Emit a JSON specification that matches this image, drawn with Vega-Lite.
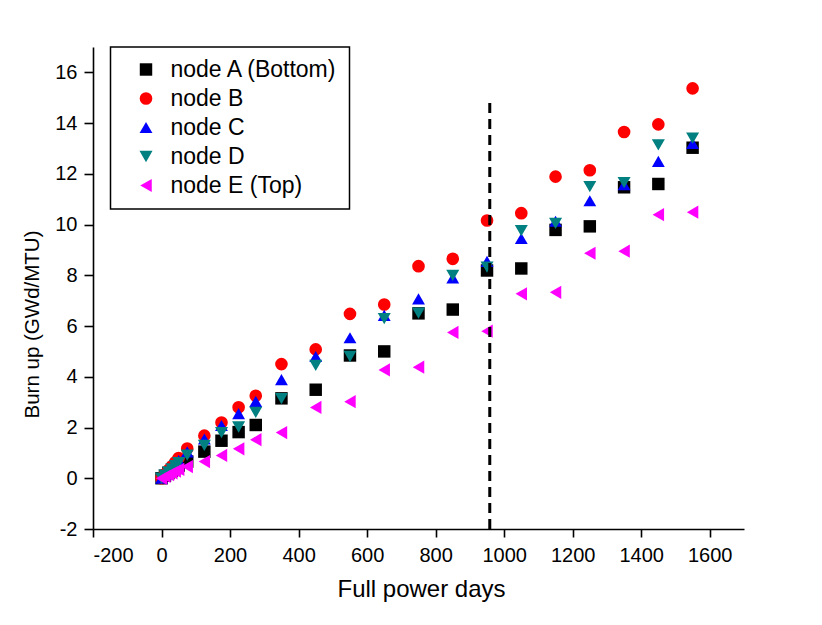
{
  "$schema": "https://vega.github.io/schema/vega-lite/v6.json",
  "width": 651,
  "height": 482,
  "autosize": "none",
  "padding": {"left": 93, "top": 47, "right": 78, "bottom": 96},
  "background": "white",
  "config": {"view": {"stroke": null}, "font": "Liberation Sans"},
  "datasets": {
    "pts": [
      {"days": 0, "burnup": 0, "node": "node A (Bottom)"},
      {"days": 10, "burnup": 0.1, "node": "node A (Bottom)"},
      {"days": 20, "burnup": 0.2, "node": "node A (Bottom)"},
      {"days": 30, "burnup": 0.3, "node": "node A (Bottom)"},
      {"days": 40, "burnup": 0.4, "node": "node A (Bottom)"},
      {"days": 50, "burnup": 0.5, "node": "node A (Bottom)"},
      {"days": 75, "burnup": 0.66, "node": "node A (Bottom)"},
      {"days": 125, "burnup": 1.05, "node": "node A (Bottom)"},
      {"days": 175, "burnup": 1.48, "node": "node A (Bottom)"},
      {"days": 225, "burnup": 1.82, "node": "node A (Bottom)"},
      {"days": 275, "burnup": 2.1, "node": "node A (Bottom)"},
      {"days": 350, "burnup": 3.15, "node": "node A (Bottom)"},
      {"days": 450, "burnup": 3.49, "node": "node A (Bottom)"},
      {"days": 550, "burnup": 4.84, "node": "node A (Bottom)"},
      {"days": 650, "burnup": 5.0, "node": "node A (Bottom)"},
      {"days": 750, "burnup": 6.5, "node": "node A (Bottom)"},
      {"days": 850, "burnup": 6.65, "node": "node A (Bottom)"},
      {"days": 950, "burnup": 8.19, "node": "node A (Bottom)"},
      {"days": 1050, "burnup": 8.27, "node": "node A (Bottom)"},
      {"days": 1150, "burnup": 9.79, "node": "node A (Bottom)"},
      {"days": 1250, "burnup": 9.93, "node": "node A (Bottom)"},
      {"days": 1350, "burnup": 11.47, "node": "node A (Bottom)"},
      {"days": 1450, "burnup": 11.6, "node": "node A (Bottom)"},
      {"days": 1550, "burnup": 13.03, "node": "node A (Bottom)"},
      {"days": 0, "burnup": 0, "node": "node B"},
      {"days": 10, "burnup": 0.16, "node": "node B"},
      {"days": 20, "burnup": 0.32, "node": "node B"},
      {"days": 30, "burnup": 0.47, "node": "node B"},
      {"days": 40, "burnup": 0.63, "node": "node B"},
      {"days": 50, "burnup": 0.8, "node": "node B"},
      {"days": 75, "burnup": 1.17, "node": "node B"},
      {"days": 125, "burnup": 1.68, "node": "node B"},
      {"days": 175, "burnup": 2.2, "node": "node B"},
      {"days": 225, "burnup": 2.8, "node": "node B"},
      {"days": 275, "burnup": 3.25, "node": "node B"},
      {"days": 350, "burnup": 4.5, "node": "node B"},
      {"days": 450, "burnup": 5.08, "node": "node B"},
      {"days": 550, "burnup": 6.48, "node": "node B"},
      {"days": 650, "burnup": 6.85, "node": "node B"},
      {"days": 750, "burnup": 8.36, "node": "node B"},
      {"days": 850, "burnup": 8.65, "node": "node B"},
      {"days": 950, "burnup": 10.16, "node": "node B"},
      {"days": 1050, "burnup": 10.45, "node": "node B"},
      {"days": 1150, "burnup": 11.89, "node": "node B"},
      {"days": 1250, "burnup": 12.14, "node": "node B"},
      {"days": 1350, "burnup": 13.65, "node": "node B"},
      {"days": 1450, "burnup": 13.95, "node": "node B"},
      {"days": 1550, "burnup": 15.37, "node": "node B"},
      {"days": 0, "burnup": 0, "node": "node C"},
      {"days": 10, "burnup": 0.14, "node": "node C"},
      {"days": 20, "burnup": 0.28, "node": "node C"},
      {"days": 30, "burnup": 0.42, "node": "node C"},
      {"days": 40, "burnup": 0.56, "node": "node C"},
      {"days": 50, "burnup": 0.7, "node": "node C"},
      {"days": 75, "burnup": 1.04, "node": "node C"},
      {"days": 125, "burnup": 1.55, "node": "node C"},
      {"days": 175, "burnup": 2.08, "node": "node C"},
      {"days": 225, "burnup": 2.55, "node": "node C"},
      {"days": 275, "burnup": 3.03, "node": "node C"},
      {"days": 350, "burnup": 3.89, "node": "node C"},
      {"days": 450, "burnup": 4.8, "node": "node C"},
      {"days": 550, "burnup": 5.54, "node": "node C"},
      {"days": 650, "burnup": 6.42, "node": "node C"},
      {"days": 750, "burnup": 7.07, "node": "node C"},
      {"days": 850, "burnup": 7.9, "node": "node C"},
      {"days": 950, "burnup": 8.55, "node": "node C"},
      {"days": 1050, "burnup": 9.45, "node": "node C"},
      {"days": 1150, "burnup": 10.13, "node": "node C"},
      {"days": 1250, "burnup": 10.94, "node": "node C"},
      {"days": 1350, "burnup": 11.57, "node": "node C"},
      {"days": 1450, "burnup": 12.49, "node": "node C"},
      {"days": 1550, "burnup": 13.2, "node": "node C"},
      {"days": 0, "burnup": 0, "node": "node D"},
      {"days": 10, "burnup": 0.12, "node": "node D"},
      {"days": 20, "burnup": 0.25, "node": "node D"},
      {"days": 30, "burnup": 0.37, "node": "node D"},
      {"days": 40, "burnup": 0.5, "node": "node D"},
      {"days": 50, "burnup": 0.62, "node": "node D"},
      {"days": 75, "burnup": 0.91, "node": "node D"},
      {"days": 125, "burnup": 1.3, "node": "node D"},
      {"days": 175, "burnup": 1.8, "node": "node D"},
      {"days": 225, "burnup": 2.02, "node": "node D"},
      {"days": 275, "burnup": 2.6, "node": "node D"},
      {"days": 350, "burnup": 3.14, "node": "node D"},
      {"days": 450, "burnup": 4.45, "node": "node D"},
      {"days": 550, "burnup": 4.8, "node": "node D"},
      {"days": 650, "burnup": 6.29, "node": "node D"},
      {"days": 750, "burnup": 6.51, "node": "node D"},
      {"days": 850, "burnup": 8.0, "node": "node D"},
      {"days": 950, "burnup": 8.32, "node": "node D"},
      {"days": 1050, "burnup": 9.76, "node": "node D"},
      {"days": 1150, "burnup": 10.05, "node": "node D"},
      {"days": 1250, "burnup": 11.5, "node": "node D"},
      {"days": 1350, "burnup": 11.65, "node": "node D"},
      {"days": 1450, "burnup": 13.14, "node": "node D"},
      {"days": 1550, "burnup": 13.41, "node": "node D"},
      {"days": 0, "burnup": 0, "node": "node E (Top)"},
      {"days": 10, "burnup": 0.07, "node": "node E (Top)"},
      {"days": 20, "burnup": 0.14, "node": "node E (Top)"},
      {"days": 30, "burnup": 0.21, "node": "node E (Top)"},
      {"days": 40, "burnup": 0.28, "node": "node E (Top)"},
      {"days": 50, "burnup": 0.35, "node": "node E (Top)"},
      {"days": 75, "burnup": 0.46, "node": "node E (Top)"},
      {"days": 125, "burnup": 0.66, "node": "node E (Top)"},
      {"days": 175, "burnup": 0.9, "node": "node E (Top)"},
      {"days": 225, "burnup": 1.16, "node": "node E (Top)"},
      {"days": 275, "burnup": 1.52, "node": "node E (Top)"},
      {"days": 350, "burnup": 1.8, "node": "node E (Top)"},
      {"days": 450, "burnup": 2.79, "node": "node E (Top)"},
      {"days": 550, "burnup": 3.02, "node": "node E (Top)"},
      {"days": 650, "burnup": 4.27, "node": "node E (Top)"},
      {"days": 750, "burnup": 4.38, "node": "node E (Top)"},
      {"days": 850, "burnup": 5.75, "node": "node E (Top)"},
      {"days": 950, "burnup": 5.8, "node": "node E (Top)"},
      {"days": 1050, "burnup": 7.27, "node": "node E (Top)"},
      {"days": 1150, "burnup": 7.33, "node": "node E (Top)"},
      {"days": 1250, "burnup": 8.87, "node": "node E (Top)"},
      {"days": 1350, "burnup": 8.95, "node": "node E (Top)"},
      {"days": 1450, "burnup": 10.39, "node": "node E (Top)"},
      {"days": 1550, "burnup": 10.49, "node": "node E (Top)"}
    ],
    "marker": [
      {"days": 958, "from": -2, "to": 14.85}
    ]
  },
  "layer": [
    {
      "data": {"name": "pts"},
      "mark": {"type": "point", "filled": true, "opacity": 1, "strokeWidth": 0},
      "encoding": {
        "x": {
          "field": "days", "type": "quantitative",
          "scale": {"domain": [-200, 1700], "nice": false, "zero": false},
          "axis": {
            "title": "Full power days",
            "values": [-200, -100, 0, 100, 200, 300, 400, 500, 600, 700, 800, 900, 1000, 1100, 1200, 1300, 1400, 1500, 1600, 1700],
            "labelExpr": "datum.value % 200 === 0 ? '' + datum.value : ''",
            "grid": false,
            "domainColor": "black", "domainWidth": 1.6,
            "tickColor": "black", "tickWidth": 1.6,
            "tickSize": {"condition": {"test": "datum.value % 200 !== 0", "value": 4}, "value": 8},
            "labelFont": "Liberation Sans", "labelFontSize": 20, "labelColor": "black", "labelPadding": 8,
            "labelOverlap": false,
            "titleFont": "Liberation Sans", "titleFontSize": 24, "titleFontWeight": "normal", "titleColor": "black",
            "titleX": 328, "titleY": 67, "titleBaseline": "alphabetic", "titleAlign": "center"
          }
        },
        "y": {
          "field": "burnup", "type": "quantitative",
          "scale": {"domain": [-2, 17], "nice": false, "zero": false},
          "axis": {
            "title": "Burn up (GWd/MTU)",
            "values": [-2, -1, 0, 1, 2, 3, 4, 5, 6, 7, 8, 9, 10, 11, 12, 13, 14, 15, 16, 17],
            "labelExpr": "datum.value % 2 === 0 ? '' + datum.value : ''",
            "grid": false,
            "domainColor": "black", "domainWidth": 1.6,
            "tickColor": "black", "tickWidth": 1.6,
            "tickSize": {"condition": {"test": "datum.value % 2 !== 0", "value": 5}, "value": 9},
            "labelFont": "Liberation Sans", "labelFontSize": 20, "labelColor": "black", "labelPadding": 7,
            "labelOverlap": false,
            "titleFont": "Liberation Sans", "titleFontSize": 20.5, "titleFontWeight": "normal", "titleColor": "black",
            "titleAngle": -90, "titleX": -55, "titleY": 277, "titleBaseline": "alphabetic", "titleAlign": "center"
          }
        },
        "color": {
          "field": "node", "type": "nominal",
          "scale": {
            "domain": ["node A (Bottom)", "node B", "node C", "node D", "node E (Top)"],
            "range": ["#000000", "#ff0000", "#0000ff", "#008080", "#ff00ff"]
          },
          "legend": {
            "orient": "none", "legendX": 17.5, "legendY": 0, "title": null,
            "fillColor": "white", "strokeColor": "black",
            "padding": 11, "rowPadding": 5, "symbolOffset": 13, "labelOffset": 13,
            "labelFont": "Liberation Sans", "labelFontSize": 23, "labelColor": "black", "labelLimit": 400,
            "symbolStrokeWidth": 0, "symbolOpacity": 1,
            "encode": {"legend": {"update": {"strokeWidth": {"value": 1.5}}}}
          }
        },
        "shape": {
          "field": "node", "type": "nominal",
          "scale": {
            "domain": ["node A (Bottom)", "node B", "node C", "node D", "node E (Top)"],
            "range": ["square", "circle", "triangle-up", "triangle-down", "triangle-left"]
          }
        },
        "size": {
          "field": "node", "type": "nominal",
          "scale": {
            "domain": ["node A (Bottom)", "node B", "node C", "node D", "node E (Top)"],
            "range": [155, 175, 230, 230, 230]
          }
        }
      }
    },
    {
      "data": {"name": "marker"},
      "mark": {"type": "rule", "color": "black", "strokeWidth": 3, "strokeDash": [10, 6]},
      "encoding": {
        "x": {"field": "days", "type": "quantitative"},
        "y": {"field": "from", "type": "quantitative"},
        "y2": {"field": "to"}
      }
    }
  ]
}
